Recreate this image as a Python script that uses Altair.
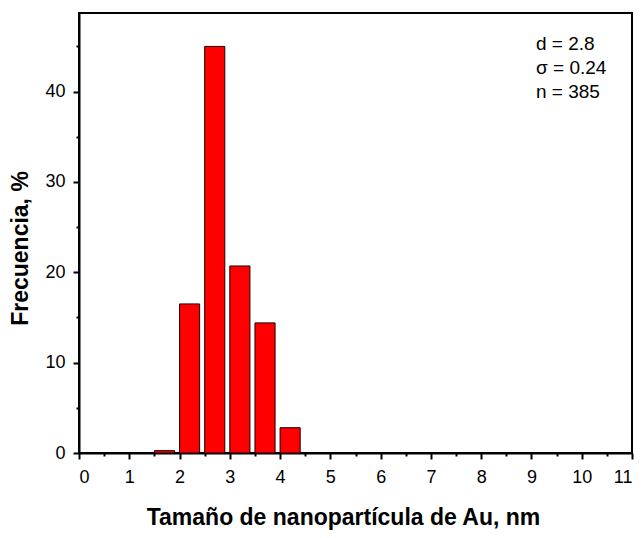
import altair as alt
import pandas as pd

# Data
bin_start = [1.5, 2.0, 2.5, 3.0, 3.5, 4.0]
frequency = [0.26, 16.5, 45.0, 20.7, 14.4, 2.8]
bar_width = 0.4

x_major = list(range(0, 12))
x_minor = [i + 0.5 for i in range(0, 11)]
y_major = [0, 10, 20, 30, 40]
y_minor = [5, 15, 25, 35, 45]

stats_lines = ["d = 2.8", "\u03c3 = 0.24", "n = 385"]

x_title = "Tamaño de nanopartícula de Au, nm"
y_title = "Frecuencia, %"

FONT = "Liberation Sans"

df = pd.DataFrame({"start": bin_start, "freq": frequency})

xscale = alt.Scale(domain=[0, 11], nice=False, zero=False)
yscale = alt.Scale(domain=[0, 48.7], nice=False)

base = alt.Chart(df).transform_calculate(end=f"datum.start + {bar_width}")

bars = base.mark_bar(color="#FF0000", stroke="#1a0000", strokeWidth=1).encode(
    x=alt.X("start:Q", scale=xscale,
            axis=alt.Axis(orient="bottom", values=x_major, format="d", title=x_title,
                          tickSize=6, tickWidth=2, tickColor="black",
                          domainColor="black", domainWidth=2,
                          labelFontSize=18, labelFont=FONT, labelColor="black",
                          labelPadding=9, grid=False,
                          titleFont=FONT, titleFontSize=23, titleFontWeight="bold",
                          titleColor="black", titlePadding=20, titleX=264)),
    x2="end:Q",
    y=alt.Y("freq:Q", scale=yscale,
            axis=alt.Axis(orient="left", values=y_major, format="d", title=y_title,
                          tickSize=6, tickWidth=2, tickColor="black",
                          domainColor="black", domainWidth=2,
                          labelFontSize=18, labelFont=FONT, labelColor="black",
                          labelPadding=8, grid=False,
                          titleFont=FONT, titleFontSize=23, titleFontWeight="bold",
                          titleColor="black", titlePadding=12, titleY=235)),
    y2=alt.datum(0),
)

minor = base.mark_point(opacity=0).encode(
    x=alt.X("start:Q", scale=xscale,
            axis=alt.Axis(orient="bottom", values=x_minor, labels=False, title="",
                          tickSize=3, tickWidth=2, tickColor="black",
                          domain=False, grid=False)),
    y=alt.Y("freq:Q", scale=yscale,
            axis=alt.Axis(orient="left", values=y_minor, labels=False, title="",
                          tickSize=3, tickWidth=2, tickColor="black",
                          domain=False, grid=False)),
)

stats = alt.Chart(pd.DataFrame({"k": [0]})).mark_text(
    align="left", baseline="alphabetic", font=FONT, fontSize=19,
    color="black", lineHeight=24,
).encode(
    x=alt.value(457),
    y=alt.value(37),
    text=alt.value(stats_lines),
)

chart = alt.layer(bars, minor, stats).resolve_axis(
    x="independent", y="independent"
).properties(
    width=553, height=440,
    padding={"left": 71, "top": 5, "right": 4, "bottom": 77},
    autosize=alt.AutoSizeParams(type="none"),
).configure_view(
    stroke="black", strokeWidth=2
)

chart.save("out.html", embed_options={"renderer": "svg", "actions": False})
